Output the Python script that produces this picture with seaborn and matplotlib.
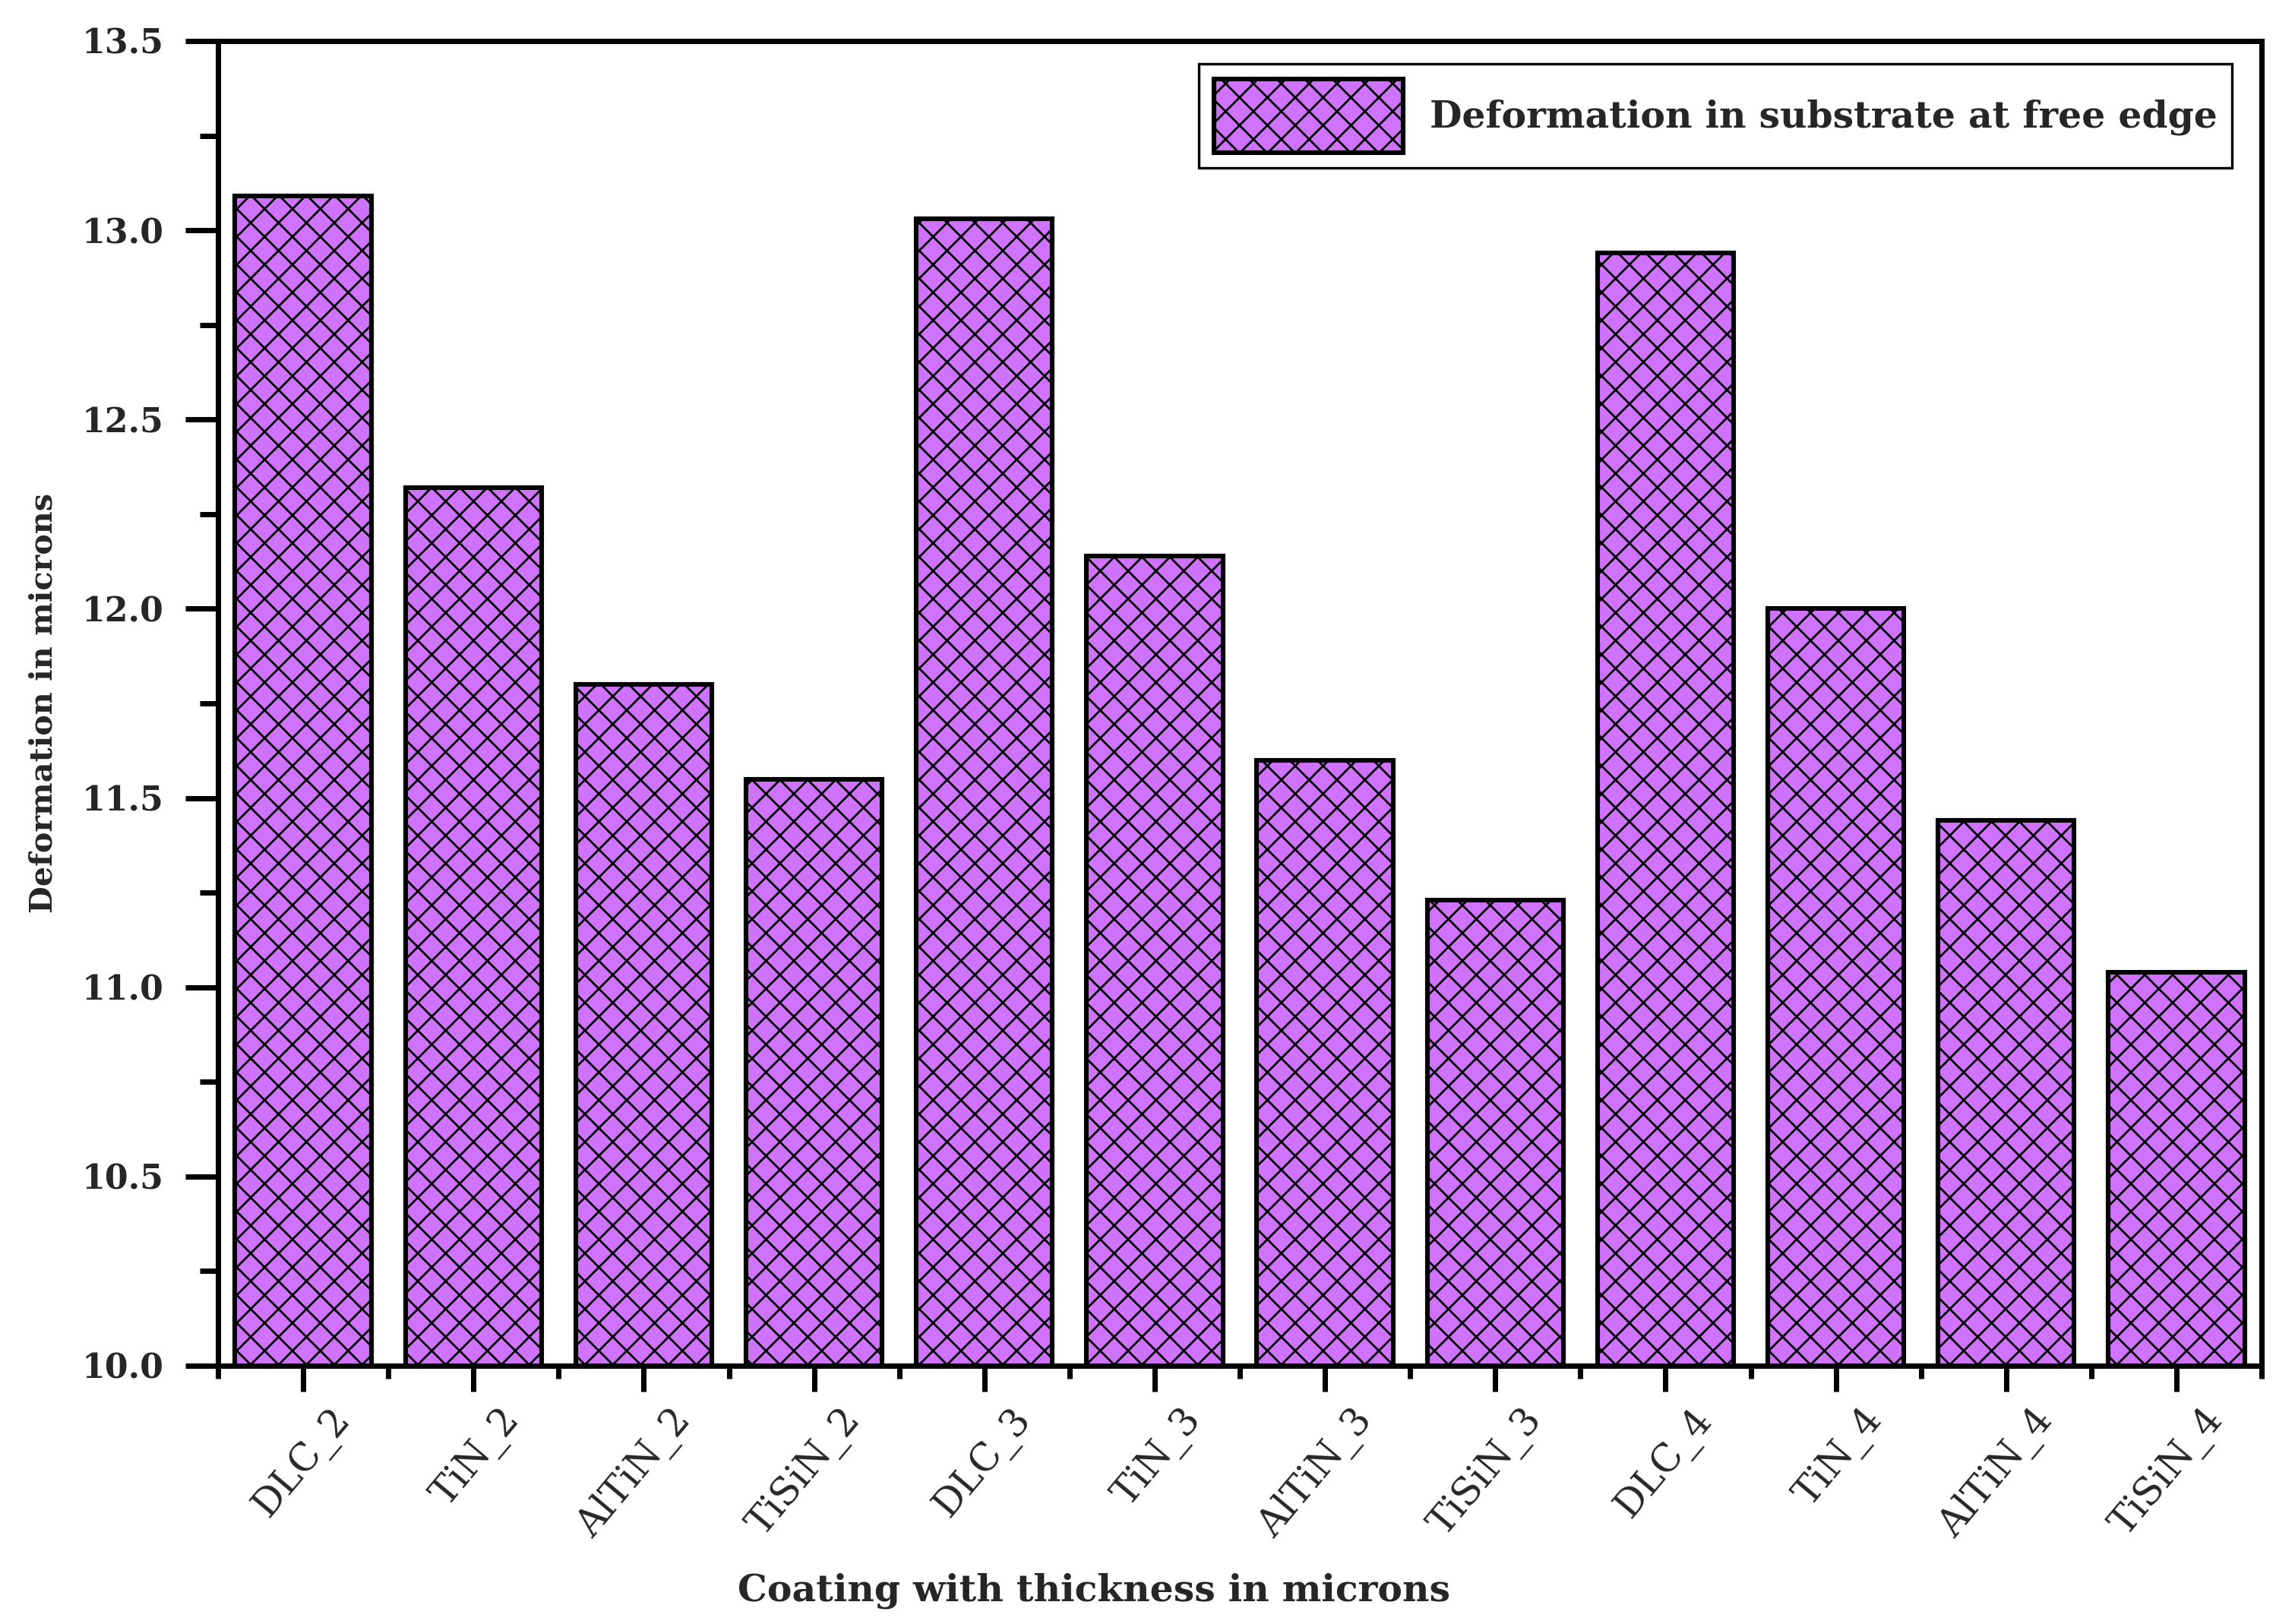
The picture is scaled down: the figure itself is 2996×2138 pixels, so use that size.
import numpy as np
import pandas as pd
import matplotlib
matplotlib.use("Agg")
import matplotlib.pyplot as plt
import seaborn as sns
from matplotlib.patches import Patch
from matplotlib.ticker import MultipleLocator, FixedLocator
from matplotlib.transforms import ScaledTranslation

# ---- data ----
coatings = ["DLC_2", "TiN_2", "AlTiN_2", "TiSiN_2",
            "DLC_3", "TiN_3", "AlTiN_3", "TiSiN_3",
            "DLC_4", "TiN_4", "AlTiN_4", "TiSiN_4"]
deformation = [13.09, 12.32, 11.80, 11.55,
               13.03, 12.14, 11.60, 11.23,
               12.94, 12.00, 11.44, 11.04]
y_ticks = [10.0, 10.5, 11.0, 11.5, 12.0, 12.5, 13.0, 13.5]
series_label = "Deformation in substrate at free edge"
x_label = "Coating with thickness in microns"
y_label = "Deformation in microns"

BAR = "#D073FC"
DPI = 220
W, H = 2996, 2138
AX_L, AX_R, AX_T, AX_B = 287, 2977, 54, 1798

sns.set_style("white")
plt.rcParams["font.family"] = ["DejaVu Serif"]
plt.rcParams["font.weight"] = "bold"
plt.rcParams["axes.labelweight"] = "bold"
plt.rcParams["hatch.linewidth"] = 0.9
plt.rcParams["hatch.color"] = "black"

fig = plt.figure(figsize=(W / DPI, H / DPI), dpi=DPI)
ax = fig.add_axes([AX_L / W, 1 - AX_B / H, (AX_R - AX_L) / W, (AX_B - AX_T) / H])

df = pd.DataFrame({"coating": coatings, "deformation": deformation})
sns.barplot(data=df, x="coating", y="deformation", color=BAR, saturation=1,
            width=0.8, edgecolor="black", linewidth=2.0, ax=ax)
for p in ax.patches:
    p.set_hatch("xx")

ax.set_xlim(-0.5, len(coatings) - 0.5)
ax.set_ylim(10.0, 13.5)
ax.set_yticks(y_ticks)
ax.set_yticklabels([f"{v:.1f}" for v in y_ticks])
ax.yaxis.set_minor_locator(MultipleLocator(0.25))
ax.xaxis.set_minor_locator(FixedLocator(np.arange(-0.5, len(coatings), 1.0)))

for s in ax.spines.values():
    s.set_visible(True)
    s.set_linewidth(2.3)
    s.set_color("black")

ax.tick_params(axis="y", which="major", direction="out", length=14, width=2.3,
               labelsize=14.5, pad=9.5, left=True, right=False, color="black")
ax.tick_params(axis="y", which="minor", direction="out", length=8, width=2.3,
               left=True, right=False, color="black")
ax.tick_params(axis="x", which="major", direction="out", length=11, width=2.3,
               labelsize=16.5, pad=4.5, bottom=True, top=False, color="black")
ax.tick_params(axis="x", which="minor", direction="out", length=5.5, width=2.3,
               bottom=True, top=False, color="black")

offset = ScaledTranslation(34 / DPI, 0, fig.dpi_scale_trans)
for lab in ax.get_xticklabels():
    lab.set_rotation(50)
    lab.set_ha("right")
    lab.set_va("top")
    lab.set_rotation_mode("anchor")
    lab.set_fontweight("normal")
    lab.set_transform(lab.get_transform() + offset)
for lab in ax.get_yticklabels():
    lab.set_fontweight("bold")

ax.set_xlabel(x_label, fontsize=16, fontweight="bold")
ax.xaxis.set_label_coords(0.4286, -0.156)
ax.set_ylabel(y_label, fontsize=13.5, fontweight="bold")
ax.yaxis.set_label_coords(-0.078, 0.5)

handle = Patch(facecolor=BAR, edgecolor="black", linewidth=2.0, hatch="xx")
leg = ax.legend([handle], [series_label], loc="upper right",
                bbox_to_anchor=((2938 - AX_L) / (AX_R - AX_L),
                                (AX_B - 84) / (AX_B - AX_T)),
                borderaxespad=0, fontsize=16,
                handlelength=5.1, handleheight=2.7, handletextpad=0.7,
                borderpad=0.4, frameon=True,
                fancybox=False, edgecolor="black", framealpha=1)
leg.get_frame().set_linewidth(1.1)
for t in leg.get_texts():
    t.set_fontweight("bold")

fig.savefig("out.png", dpi=DPI)
